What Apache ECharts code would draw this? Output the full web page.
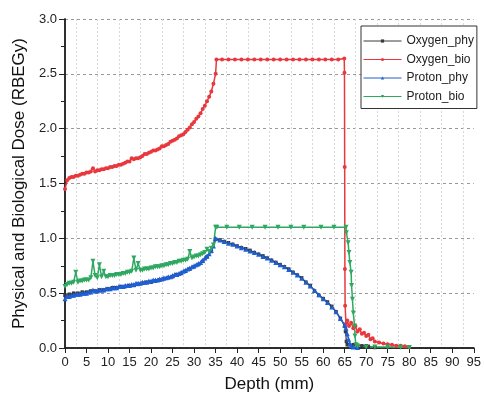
<!DOCTYPE html>
<html>
<head>
<meta charset="utf-8">
<script src="https://cdn.jsdelivr.net/npm/echarts@6/dist/echarts.min.js"></script>
<style>
html,body{margin:0;padding:0;background:#fff;}
#chart{width:484px;height:398px;}
</style>
</head>
<body>
<div id="chart"></div>
<script>
// ---------- DATA ----------
const seriesNames = ['Oxygen_phy', 'Oxygen_bio', 'Proton_phy', 'Proton_bio'];
const xTicks = [0,5,10,15,20,25,30,35,40,45,50,55,60,65,70,75,80,85,90,95];
const yTicks = [0.0,0.5,1.0,1.5,2.0,2.5,3.0];

// Oxygen_phy (dark gray)
const oxyPhyX = [0,1,2,3,4,5,6,7,8,9,10,11,12,13,14,15,16,17,18,19,20,21,22,23,24,25,26,27,28,29,30,31,32,33,34,35,
  36,37,38,39,40,41,42,43,44,45,46,47,48,49,50,51,52,53,54,55,56,57,58,59,60,61,62,63,64,65,65.2,65.4,65.6,66,67,68,69,70,70.5,72];
const oxyPhyY = [0.48,0.49,0.50,0.50,0.51,0.51,0.52,0.52,0.53,0.53,0.54,0.55,0.55,0.56,0.56,0.57,0.57,0.58,0.59,0.60,0.60,0.61,0.62,0.63,0.64,0.65,0.67,0.68,0.70,0.72,0.74,0.76,0.79,0.83,0.88,0.99,
  0.985,0.97,0.96,0.945,0.93,0.915,0.905,0.89,0.87,0.855,0.84,0.82,0.80,0.78,0.76,0.74,0.72,0.69,0.665,0.64,0.60,0.57,0.52,0.48,0.45,0.42,0.38,0.33,0.27,0.20,0.15,0.06,0.03,0.03,0.03,0.025,0.02,0.02,0.015,0.005];

// Oxygen_bio (red)
const oxyBioX = [0,0.5,1,1.5,2,2.5,3,3.5,4,4.5,5,5.5,6,6.5,7,7.5,8,8.5,9,9.5,10,10.5,11,11.5,12,12.5,13,13.5,14,14.5,15,15.5,16,16.5,17,17.5,18,18.5,19,19.5,20,20.5,21,21.5,22,22.5,23,23.5,24,24.5,25,25.5,26,26.5,27,27.5,28,28.5,29,29.5,30,30.5,31,31.5,32,32.5,33,33.5,34,34.5,35,
  35.2,36.5,38,39.5,41,42.5,44,45.5,47,48.5,50,51.5,53,54.5,56,57.5,59,60.5,62,63.5,64.9,
  64.95,65,65.05,65.1,65.3,65.6,66,66.5,67,67.5,68,68.5,69,69.5,70,70.5,71,71.5,72,73,74,75,76,77,78,79,80];
const oxyBioY = [1.45,1.53,1.55,1.56,1.56,1.57,1.57,1.58,1.59,1.59,1.60,1.60,1.61,1.64,1.61,1.62,1.62,1.63,1.63,1.64,1.64,1.65,1.65,1.66,1.66,1.67,1.67,1.68,1.69,1.70,1.70,1.73,1.72,1.73,1.73,1.74,1.75,1.77,1.77,1.78,1.79,1.80,1.80,1.81,1.82,1.84,1.84,1.85,1.86,1.88,1.89,1.90,1.91,1.93,1.94,1.95,1.97,1.99,2.01,2.04,2.06,2.09,2.11,2.14,2.18,2.21,2.25,2.29,2.34,2.41,2.50,
  2.63,2.63,2.63,2.63,2.63,2.63,2.63,2.63,2.63,2.63,2.63,2.63,2.63,2.63,2.63,2.63,2.63,2.63,2.63,2.63,2.64,
  2.51,1.65,0.72,0.385,0.22,0.25,0.20,0.23,0.18,0.20,0.15,0.17,0.13,0.14,0.11,0.12,0.08,0.09,0.06,0.05,0.04,0.035,0.03,0.02,0.02,0.015,0.01];

// Proton_phy (blue)
const proPhyX = [0,0.5,1,1.5,2,2.5,3,3.5,4,4.5,5,5.5,6,6.5,7,7.5,8,8.5,9,9.5,10,10.5,11,11.5,12,12.5,13,13.5,14,14.5,15,15.5,16,16.5,17,17.5,18,18.5,19,19.5,20,20.5,21,21.5,22,22.5,23,23.5,24,24.5,25,25.5,26,26.5,27,27.5,28,28.5,29,29.5,30,30.5,31,31.5,32,32.5,33,33.5,34,34.5,35,
  36,37,38,39,40,41,42,43,44,45,46,47,48,49,50,51,52,53,54,55,56,57,58,59,60,61,62,63,64,65,65.3,65.6,65.9,66.2,66.5,67,68];
const proPhyY = [0.45,0.47,0.47,0.48,0.48,0.49,0.49,0.49,0.50,0.50,0.50,0.51,0.51,0.53,0.52,0.52,0.53,0.53,0.53,0.54,0.54,0.54,0.55,0.55,0.55,0.56,0.56,0.56,0.57,0.57,0.57,0.58,0.58,0.59,0.59,0.59,0.60,0.60,0.60,0.61,0.61,0.62,0.62,0.62,0.63,0.63,0.64,0.64,0.65,0.65,0.66,0.67,0.67,0.68,0.69,0.70,0.71,0.72,0.73,0.74,0.75,0.76,0.77,0.78,0.80,0.82,0.84,0.86,0.89,0.93,1.00,
  0.985,0.97,0.955,0.945,0.93,0.915,0.90,0.885,0.87,0.855,0.835,0.82,0.80,0.78,0.76,0.74,0.715,0.69,0.665,0.635,0.60,0.565,0.525,0.485,0.45,0.415,0.375,0.33,0.27,0.21,0.18,0.13,0.08,0.04,0.02,0.01,0.005];

// Proton_bio (green)
const proBioX = [0,0.5,1,1.5,2,2.5,3,3.5,4,4.5,5,5.5,6,6.5,7,7.5,8,8.5,9,9.5,10,10.5,11,11.5,12,12.5,13,13.5,14,14.5,15,15.5,16,16.5,17,17.5,18,18.5,19,19.5,20,20.5,21,21.5,22,22.5,23,23.5,24,24.5,25,25.5,26,26.5,27,27.5,28,28.5,29,29.5,30,30.5,31,31.5,32,32.5,33,33.5,34,34.5,35,
  35.3,37.6,40.5,43.5,46.5,49.5,52.5,55.5,59.5,62.5,65.3,
  65.4,65.8,66,66.2,66.5,66.6,66.8,67,67.3,67.4,67.6,68,70,72,75,78,80];
const proBioY = [0.56,0.58,0.59,0.59,0.60,0.69,0.60,0.61,0.61,0.62,0.62,0.62,0.64,0.79,0.66,0.64,0.76,0.65,0.70,0.65,0.65,0.66,0.66,0.66,0.67,0.67,0.67,0.68,0.68,0.69,0.69,0.70,0.82,0.71,0.77,0.71,0.71,0.72,0.72,0.72,0.73,0.73,0.74,0.74,0.74,0.75,0.75,0.76,0.76,0.77,0.77,0.78,0.78,0.79,0.79,0.80,0.80,0.81,0.88,0.82,0.83,0.84,0.84,0.85,0.86,0.87,0.90,0.88,0.91,0.94,1.10,
  1.10,1.10,1.10,1.10,1.10,1.10,1.10,1.10,1.10,1.10,1.10,
  1.05,0.96,0.87,0.78,0.69,0.57,0.445,0.32,0.20,0.11,0.03,0.015,0.01,0.01,0.008,0.006,0.005];

const colors = ['#3a3a3a', '#e8383d', '#1e5fd6', '#2fa862'];

// ---------- CHART ----------
function zip(xs, ys){ return xs.map((x,i)=>[x, ys[i]]); }
const FONT = 'Liberation Sans, Arial, sans-serif';

const chart = echarts.init(document.getElementById('chart'), null, {renderer:'canvas'});

const mk = (name, xs, ys, color, symbol, size, rot, lw) => ({
  name, type:'line', xAxisIndex:0, yAxisIndex:0,
  data: zip(xs, ys),
  symbol, symbolSize: size, symbolRotate: rot || 0,
  showAllSymbol: true,
  lineStyle:{color, width:lw},
  itemStyle:{color},
  z: 3
});

chart.setOption({
  animation:false,
  backgroundColor:'#fff',
  color: colors,
  grid:{left:65, right:7, top:19, bottom:49, containLabel:false},
  legend:{
    orient:'vertical',
    left:361, top:26,
    data: seriesNames,
    itemWidth:38, itemHeight:4, itemGap:6.5,
    borderColor:'#333', borderWidth:1,
    padding:[9,3,6,2],
    lineStyle:{width:1},
    textStyle:{fontFamily:FONT, fontSize:12, color:'#222'},
    backgroundColor:'#fff'
  },
  xAxis:[{
    type:'value', min:0, max:95, interval:5, position:'bottom',
    name:'Depth (mm)', nameLocation:'middle', nameGap:28,
    nameTextStyle:{fontFamily:FONT, fontSize:17, color:'#111'},
    axisLine:{lineStyle:{color:'#222', width:1.5}},
    axisTick:{show:true, length:5, lineStyle:{color:'#222'}},
    axisLabel:{fontFamily:FONT, fontSize:13, color:'#222', margin:8, formatter: v => xTicks.includes(v) ? String(v) : ''},
    splitLine:{show:false},
    minorTick:{show:false, splitNumber:2},
    minorSplitLine:{show:true, lineStyle:{color:'#d8d8d8', type:[2,2], width:1}}
  },{
    type:'value', min:0, max:95, interval:5, position:'top',
    axisLine:{lineStyle:{color:'#222', width:1.5}},
    axisTick:{show:true, inside:true, length:5, lineStyle:{color:'#222'}},
    axisLabel:{show:false}, splitLine:{show:false}
  }],
  yAxis:[{
    type:'value', min:0, max:3, interval:0.5,
    name:'Physical and Biological Dose (RBEGy)', nameLocation:'middle', nameGap:33,
    nameTextStyle:{fontFamily:FONT, fontSize:17, color:'#111'},
    axisLine:{show:true, lineStyle:{color:'#222', width:1.5}},
    axisTick:{show:true, length:6, lineStyle:{color:'#222'}},
    minorTick:{show:true, splitNumber:2, length:4, lineStyle:{color:'#222'}},
    axisLabel:{fontFamily:FONT, fontSize:13, color:'#222', margin:8, formatter: v => yTicks.some(t=>Math.abs(t-v)<1e-9) ? v.toFixed(1) : ''},
    splitLine:{show:true, lineStyle:{color:'#999', type:[3,3], width:1}}
  },{
    type:'value', min:0, max:3, interval:0.5, position:'right',
    axisLine:{show:true, lineStyle:{color:'#222', width:1.5}},
    axisTick:{show:true, inside:true, length:5, lineStyle:{color:'#222'}},
    axisLabel:{show:false}, splitLine:{show:false}
  }],
  series:[
    mk('Oxygen_phy', oxyPhyX, oxyPhyY, colors[0], 'rect', 3.5, 0, 1.2),
    mk('Oxygen_bio', oxyBioX, oxyBioY, colors[1], 'circle', 4, 0, 1.5),
    mk('Proton_phy', proPhyX, proPhyY, colors[2], 'triangle', 5, 0, 1.5),
    mk('Proton_bio', proBioX, proBioY, colors[3], 'triangle', 5, 180, 1.5)
  ]
});
</script>
</body>
</html>
